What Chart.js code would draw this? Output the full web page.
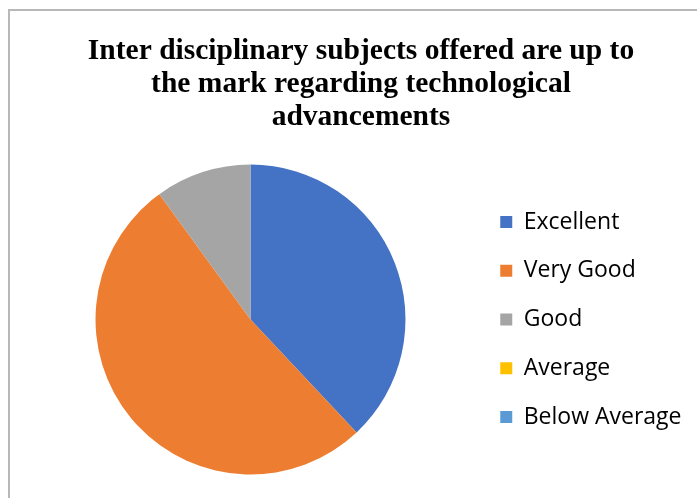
<!DOCTYPE html>
<html>
<head>
<meta charset="utf-8">
<script src="https://cdn.jsdelivr.net/npm/chart.js@4"></script>
<style>
  html, body { margin: 0; padding: 0; background: #fff; overflow: hidden; }
  #wrap { position: relative; width: 697px; height: 498px; }
  #frame { position: absolute; left: 8px; top: 9px; width: 800px; height: 600px; border: 2px solid #b8b8b8; box-sizing: border-box; }
  canvas { position: absolute; left: 0; top: 0; }
</style>
</head>
<body>
<div id="wrap">
  <div id="frame"></div>
  <canvas id="myChart" width="697" height="498"></canvas>
</div>
<script>
const categories = ["Excellent", "Very Good", "Good", "Average", "Below Average"];
const responses = [38, 52, 10, 0, 0];
const sliceColors = ["#4472C4", "#ED7D31", "#A5A5A5", "#FFC000", "#5B9BD5"];
const titleLines = [
  "Inter disciplinary subjects offered are up to",
  "the mark regarding technological",
  "advancements",
];

// keep the legend column a fixed width so the pie sits where it should
const legendWidth = {
  id: "legendWidth",
  beforeLayout(chart) {
    const lg = chart.legend;
    if (lg && !lg._fixed) {
      const fit = lg.fit.bind(lg);
      lg.fit = function () {
        fit();
        this.width = 221;
      };
      lg._fixed = true;
    }
  },
};

var ctx = document.getElementById("myChart").getContext("2d");
var myChart = new Chart(ctx, {
  type: "pie",
  data: {
    labels: categories,
    datasets: [
      {
        label: "Responses",
        data: responses,
        backgroundColor: sliceColors,
        borderWidth: 0,
      },
    ],
  },
  options: {
    responsive: false,
    animation: false,
    layout: {
      padding: { left: 26.5, right: 1.5, top: 0, bottom: 23.5 },
    },
    plugins: {
      title: {
        display: true,
        text: titleLines,
        color: "#000",
        font: { family: "'Liberation Serif', 'Times New Roman', serif", size: 29.5, weight: "bold", lineHeight: 1.119 },
        padding: { top: 34.5, bottom: 31 },
      },
      legend: {
        position: "right",
        fullSize: false,
        align: "center",
        labels: {
          color: "#000",
          font: { family: "'Open Sans', sans-serif", size: 23 },
          boxWidth: 12,
          boxHeight: 12,
          padding: 25.75,
        },
      },
      tooltip: { enabled: false },
    },
  },
  plugins: [legendWidth],
});
</script>
</body>
</html>
